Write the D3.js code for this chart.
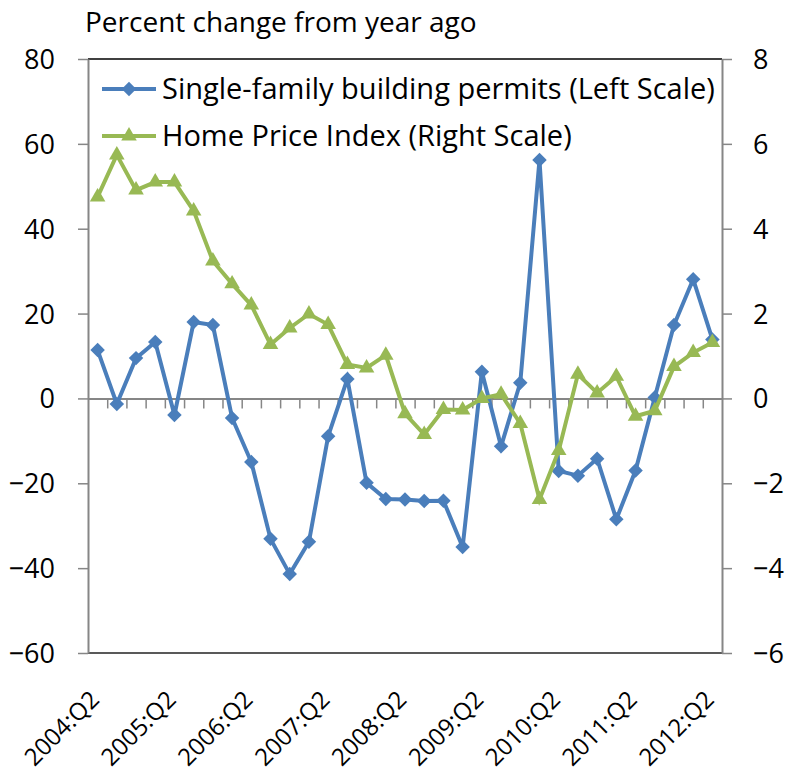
<!DOCTYPE html>
<html>
<head>
<meta charset="utf-8">
<script src="https://cdn.jsdelivr.net/npm/d3@7"></script>
<style>
  body { margin: 0; background: #fff; }
  text { font-family: "Open Sans", sans-serif; fill: #000; }
</style>
</head>
<body>
<svg id="chart" width="790" height="775"></svg>
<script>
// quarters 2004:Q2 .. 2012:Q2
const quarters = [];
for (let y = 2004; y <= 2012; y++) {
  for (let q = 1; q <= 4; q++) {
    if ((y === 2004 && q < 2) || (y === 2012 && q > 2)) continue;
    quarters.push(y + ":Q" + q);
  }
}
const tickLabels = ["2004:Q2", "2005:Q2", "2006:Q2", "2007:Q2", "2008:Q2",
  "2009:Q2", "2010:Q2", "2011:Q2", "2012:Q2"];

// single-family building permits, % change y/y (left scale)
const permits = [11.4, -1.3, 9.5, 13.3, -3.9, 18.0, 17.3, -4.6, -15.0, -33.1,
  -41.4, -33.8, -8.9, 4.6, -19.9, -23.7, -23.8, -24.2, -24.1, -35.0,
  6.3, -11.3, 3.7, 56.2, -17.1, -18.2, -14.2, -28.5, -17.0, 0.2,
  17.3, 28.1, 13.9];
// home price index, % change y/y (right scale)
const hpi = [4.75, 5.74, 4.91, 5.10, 5.10, 4.42, 3.24, 2.70, 2.20, 1.27,
  1.66, 1.99, 1.74, 0.80, 0.72, 1.02, -0.36, -0.85, -0.26, -0.27,
  0.0, 0.10, -0.59, -2.38, -1.23, 0.57, 0.13, 0.52, -0.42, -0.29,
  0.75, 1.08, 1.32];

const leftTicks = [-60, -40, -20, 0, 20, 40, 60, 80];
const rightTicks = [-6, -4, -2, 0, 2, 4, 6, 8];

const blue = "#4a7ebb", green = "#98b954", gray = "#868686";
const plotL = 88, plotR = 722, plotT = 59, plotB = 653;

const svg = d3.select("#chart");

const x = d3.scaleBand().domain(quarters).range([plotL, plotR]);
const xEdge = d3.scaleLinear().domain([0, quarters.length]).range([plotL, plotR]);
const yL = d3.scaleLinear().domain([-60, 80]).range([plotB, plotT]);
const yR = d3.scaleLinear().domain([-6, 8]).range([plotB, plotT]);
const cx = d => x(d) + x.bandwidth() / 2;

svg.append("text").attr("x", 85).attr("y", 32)
  .style("font-size", "28px").text("Percent change from year ago");

// plot frame
svg.append("line").attr("x1", plotL).attr("x2", plotR).attr("y1", plotT).attr("y2", plotT)
  .attr("stroke", "#000").attr("stroke-width", 1.5);
svg.append("line").attr("x1", plotL).attr("x2", plotR).attr("y1", plotB).attr("y2", plotB)
  .attr("stroke", "#222").attr("stroke-width", 1.5);

// left axis
const gL = svg.append("g").attr("transform", `translate(${plotL},0)`)
  .call(d3.axisLeft(yL).tickValues(leftTicks).tickSize(10).tickPadding(23).tickSizeOuter(0));
// right axis
const gR = svg.append("g").attr("transform", `translate(${plotR},0)`)
  .call(d3.axisRight(yR).tickValues(rightTicks).tickSize(10).tickPadding(21).tickSizeOuter(0));
[gL, gR].forEach(g => {
  g.attr("font-family", null).attr("font-size", null);
  g.select(".domain").attr("stroke", gray).attr("stroke-width", 2);
  g.selectAll(".tick line").attr("stroke", gray).attr("stroke-width", 1.5);
  g.selectAll(".tick text").style("font-size", "27px").attr("dy", "0.35em");
});

// category axis along zero
const gX = svg.append("g").attr("transform", `translate(0,${yL(0)})`)
  .call(d3.axisBottom(xEdge).tickValues(d3.range(1, quarters.length)).tickSize(10)
    .tickFormat("").tickSizeOuter(0));
gX.select(".domain").attr("stroke", gray).attr("stroke-width", 2);
gX.selectAll(".tick line").attr("stroke", gray).attr("stroke-width", 1.5);

// rotated category labels
svg.append("g").selectAll("text").data(tickLabels).join("text")
  .attr("transform", d => "translate(" + (cx(d) + 3) + "," + (plotB + 48) + ") rotate(-45)")
  .attr("text-anchor", "end")
  .style("font-size", "24px")
  .text(d => d);

// series
const lineL = d3.line().x((d, i) => cx(quarters[i])).y(d => yL(d));
const lineR = d3.line().x((d, i) => cx(quarters[i])).y(d => yR(d));
const diamond = d3.symbol().type(d3.symbolSquare).size(105);
const triangle = d3.symbol().type(d3.symbolTriangle).size(105);

svg.append("path").datum(permits).attr("d", lineL)
  .attr("fill", "none").attr("stroke", blue).attr("stroke-width", 4);
svg.append("g").selectAll("path").data(permits).join("path")
  .attr("d", diamond)
  .attr("transform", (d, i) => `translate(${cx(quarters[i])},${yL(d)}) rotate(45)`)
  .attr("fill", blue);

svg.append("path").datum(hpi).attr("d", lineR)
  .attr("fill", "none").attr("stroke", green).attr("stroke-width", 4);
svg.append("g").selectAll("path").data(hpi).join("path")
  .attr("d", triangle)
  .attr("transform", (d, i) => `translate(${cx(quarters[i])},${yR(d)})`)
  .attr("fill", green);

// legend
const legend = [
  { label: "Single-family building permits (Left Scale)", color: blue, sym: diamond, rot: 45, y: 89 },
  { label: "Home Price Index (Right Scale)", color: green, sym: triangle, rot: 0, y: 136 }
];
const lg = svg.append("g").selectAll("g").data(legend).join("g")
  .attr("transform", d => `translate(0,${d.y})`);
lg.append("line").attr("x1", 102).attr("x2", 156)
  .attr("stroke", d => d.color).attr("stroke-width", 4);
lg.append("path").attr("d", d => d.sym())
  .attr("transform", d => `translate(129,0) rotate(${d.rot})`).attr("fill", d => d.color);
lg.append("text").attr("x", 162).attr("dy", "0.35em")
  .style("font-size", "29px").text(d => d.label);
</script>
</body>
</html>
